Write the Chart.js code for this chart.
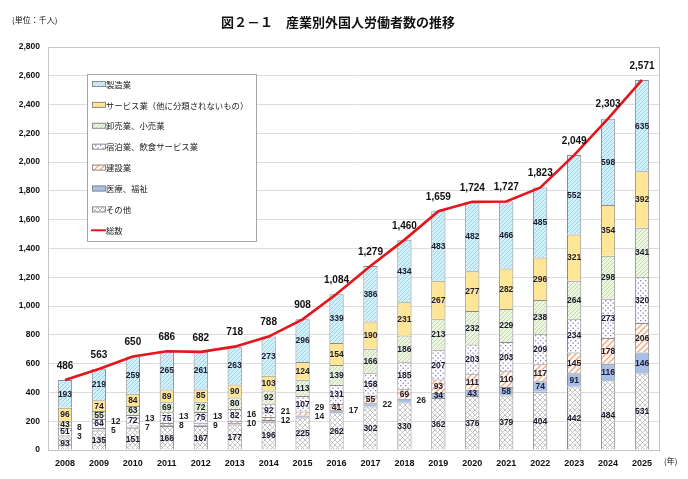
<!DOCTYPE html>
<html>
<head>
<meta charset="utf-8">
<script src="https://cdn.jsdelivr.net/npm/chart.js@4.4.0/dist/chart.umd.min.js"></script>
<style>
  html, body { margin: 0; padding: 0; background: #fff; }
  #wrap { width: 688px; height: 479px; position: relative; }
</style>
</head>
<body>
<div id="wrap"><canvas id="barChart"></canvas></div>
<script>
// data (thousand people)
const years = ["2008", "2009", "2010", "2011", "2012", "2013", "2014", "2015", "2016",
  "2017", "2018", "2019", "2020", "2021", "2022", "2023", "2024", "2025"];
const sonota = [93, 135, 151, 166, 167, 177, 196, 225, 262, 302, 330, 362, 376, 379, 404, 442, 484, 531];
const iryo = [3, 5, 7, 8, 9, 10, 12, 14, 17, 22, 26, 34, 43, 58, 74, 91, 116, 146];
const kensetsu = [8, 12, 13, 13, 13, 16, 21, 29, 41, 55, 69, 93, 111, 110, 117, 145, 178, 206];
const shukuhaku = [51, 64, 72, 75, 75, 82, 92, 107, 131, 158, 185, 207, 203, 203, 209, 234, 273, 320];
const oroshi = [43, 55, 63, 69, 72, 80, 92, 113, 139, 166, 186, 213, 232, 229, 238, 264, 298, 341];
const service = [96, 74, 84, 89, 85, 90, 103, 124, 154, 190, 231, 267, 277, 282, 296, 321, 354, 392];
const seizo = [193, 219, 259, 265, 261, 263, 273, 296, 339, 386, 434, 483, 482, 466, 485, 552, 598, 635];
const total = [486, 563, 650, 686, 682, 718, 788, 908, 1084, 1279, 1460, 1659, 1724, 1727, 1823, 2049, 2303, 2571];
const yTicks = [0, 200, 400, 600, 800, 1000, 1200, 1400, 1600, 1800, 2000, 2200, 2400, 2600, 2800];

const numFont = "'Liberation Sans Narrow', 'Liberation Sans', sans-serif";
const jpFont = "'Noto Sans CJK JP', sans-serif";

// fill patterns
function makePattern(bg, size, draw) {
  const c = document.createElement("canvas");
  c.width = size; c.height = size;
  const g = c.getContext("2d");
  g.fillStyle = bg;
  g.fillRect(0, 0, size, size);
  if (draw) draw(g, size);
  return g.createPattern(c, "repeat");
}
function diag(color, width) {
  return (g, s) => {
    g.strokeStyle = color; g.lineWidth = width;
    g.beginPath();
    g.moveTo(0, s); g.lineTo(s, 0);
    g.moveTo(-1, 1); g.lineTo(1, -1);
    g.moveTo(s - 1, s + 1); g.lineTo(s + 1, s - 1);
    g.stroke();
  };
}
function cross(color) {
  return (g, s) => {
    g.strokeStyle = color; g.lineWidth = 0.8;
    g.beginPath();
    g.moveTo(0, 0); g.lineTo(s, s);
    g.moveTo(0, s); g.lineTo(s, 0);
    g.stroke();
  };
}
function dots(color) {
  return (g, s) => {
    g.fillStyle = color;
    g.fillRect(0, 0, 1.3, 1.3);
    g.fillRect(s / 2, s / 2, 1.3, 1.3);
  };
}

const fillSeizo = makePattern("#d3f0fa", 4, diag("#8ccfe4", 0.8));
const fillService = "#ffe596";
const fillOroshi = makePattern("#eef6e3", 4, diag("#b3d398", 0.8));
const fillShuku = makePattern("#ffffff", 5, dots("#8e7cc3"));
const fillKensetsu = makePattern("#ffffff", 6, diag("#f2a77a", 1.4));
const fillIryo = "#a8bfe6";
const fillSonota = makePattern("#ffffff", 5, cross("#b5b5b5"));

const barBorder = "#8c8c8c";
function barSet(label, data, fill) {
  return {
    type: "bar", label: label, data: data, backgroundColor: fill,
    borderColor: barBorder, borderWidth: 1, stack: "bars", order: 1,
    barPercentage: 0.42, categoryPercentage: 1.0,
  };
}

const datasets = [
  barSet("その他", sonota, fillSonota),
  barSet("医療、福祉", iryo, fillIryo),
  barSet("建設業", kensetsu, fillKensetsu),
  barSet("宿泊業、飲食サービス業", shukuhaku, fillShuku),
  barSet("卸売業、小売業", oroshi, fillOroshi),
  barSet("サービス業（他に分類されないもの）", service, fillService),
  barSet("製造業", seizo, fillSeizo),
  {
    type: "line", label: "総数", data: total, borderColor: "#e3161c", borderWidth: 2.6,
    pointRadius: 0, tension: 0, stack: "line", order: 0, fill: false,
  },
];

const legendItems = [
  ["製造業", fillSeizo],
  ["サービス業（他に分類されないもの）", fillService],
  ["卸売業、小売業", fillOroshi],
  ["宿泊業、飲食サービス業", fillShuku],
  ["建設業", fillKensetsu],
  ["医療、福祉", fillIryo],
  ["その他", fillSonota],
  ["総数", null],
];

// labels, legend, title
const decorPlugin = {
  id: "decor",
  beforeDatasetsDraw(chart) {
    const { ctx, chartArea: a } = chart;
    ctx.save();
    ctx.strokeStyle = "#c4c4c4";
    ctx.lineWidth = 1;
    ctx.strokeRect(a.left + 0.5, a.top + 0.5, a.right - a.left, a.bottom - a.top);
    ctx.restore();
  },
  afterDatasetsDraw(chart) {
    const { ctx } = chart;
    ctx.save();
    ctx.textAlign = "center";
    ctx.textBaseline = "middle";
    ctx.font = "bold 8.5px " + numFont;
    // segment labels
    for (let d = 0; d < 7; d++) {
      const meta = chart.getDatasetMeta(d);
      meta.data.forEach((el, i) => {
        const v = chart.data.datasets[d].data[i];
        const cy = (el.y + el.base) / 2;
        if (v < 30) {
          ctx.fillStyle = "#222";
          ctx.textAlign = "left";
          let y = cy;
          if (d === 2) {
            const m = chart.getDatasetMeta(1).data[i];
            y = (m.y + m.base) / 2 - 9;
          }
          ctx.fillText(String(v), el.x + el.width / 2 + 5, y);
          ctx.textAlign = "center";
        } else {
          ctx.fillStyle = "#1c1c30";
          ctx.fillText(String(v), el.x, cy + 0.5);
        }
      });
    }
    // totals
    const lm = chart.getDatasetMeta(7);
    ctx.font = "bold 10px " + numFont;
    ctx.fillStyle = "#111";
    lm.data.forEach((p, i) => {
      ctx.fillText(total[i].toLocaleString("en-US"), p.x, p.y - 14);
    });

    // legend
    const lx = 87, ly = 74, lw = 169, lh = 167;
    ctx.fillStyle = "#fff";
    ctx.fillRect(lx, ly, lw, lh);
    ctx.strokeStyle = "#a6a6a6";
    ctx.lineWidth = 1;
    ctx.strokeRect(lx + 0.5, ly + 0.5, lw, lh);
    ctx.textAlign = "left";
    ctx.font = "8.4px " + jpFont;
    legendItems.forEach((it, k) => {
      const y = 84 + k * 20.9;
      if (it[1]) {
        ctx.fillStyle = it[1];
        ctx.fillRect(92, y - 3, 13, 6);
        ctx.strokeStyle = "#8c8c8c";
        ctx.strokeRect(92.5, y - 2.5, 13, 5);
      } else {
        ctx.strokeStyle = "#e3161c";
        ctx.lineWidth = 2;
        ctx.beginPath(); ctx.moveTo(91, y); ctx.lineTo(106, y); ctx.stroke();
        ctx.lineWidth = 1;
      }
      ctx.fillStyle = "#222";
      ctx.fillText(it[0], 106, y + 0.5);
    });

    // title & notes
    ctx.fillStyle = "#111";
    ctx.font = "bold 13px " + jpFont;
    ctx.textAlign = "center";
    ctx.fillText("図２－１　産業別外国人労働者数の推移", 338, 22);
    ctx.font = "8px " + jpFont;
    ctx.textAlign = "left";
    ctx.fillText("(単位：千人)", 12, 20);
    ctx.fillText("(年)", 664, 461);
    ctx.restore();
  },
};

const config = {
  type: "bar",
  data: { labels: years, datasets: datasets },
  options: {
    responsive: true,
    maintainAspectRatio: false,
    animation: false,
    layout: { padding: { top: 47, right: 29, left: 0, bottom: 0 } },
    plugins: { legend: { display: false }, tooltip: { enabled: false } },
    scales: {
      x: {
        stacked: true,
        grid: { display: false, drawTicks: false },
        border: { color: "#c4c4c4" },
        ticks: { padding: 8, color: "#111", font: { family: numFont, size: 9, weight: "bold" } },
        afterFit: (s) => { s.height = 29; },
      },
      y: {
        stacked: true,
        min: 0,
        max: 2800,
        afterBuildTicks: (s) => { s.ticks = yTicks.map((v) => ({ value: v })); },
        grid: { color: "#dcdcdc", drawTicks: false },
        border: { display: false },
        ticks: {
          padding: 8, color: "#111",
          font: { family: numFont, size: 8.5, weight: "bold" },
          callback: (v) => Number(v).toLocaleString("en-US"),
        },
        afterFit: (s) => { s.width = 48; },
      },
    },
  },
  plugins: [decorPlugin],
};

const barChart = new Chart(document.getElementById("barChart"), config);
</script>
</body>
</html>
